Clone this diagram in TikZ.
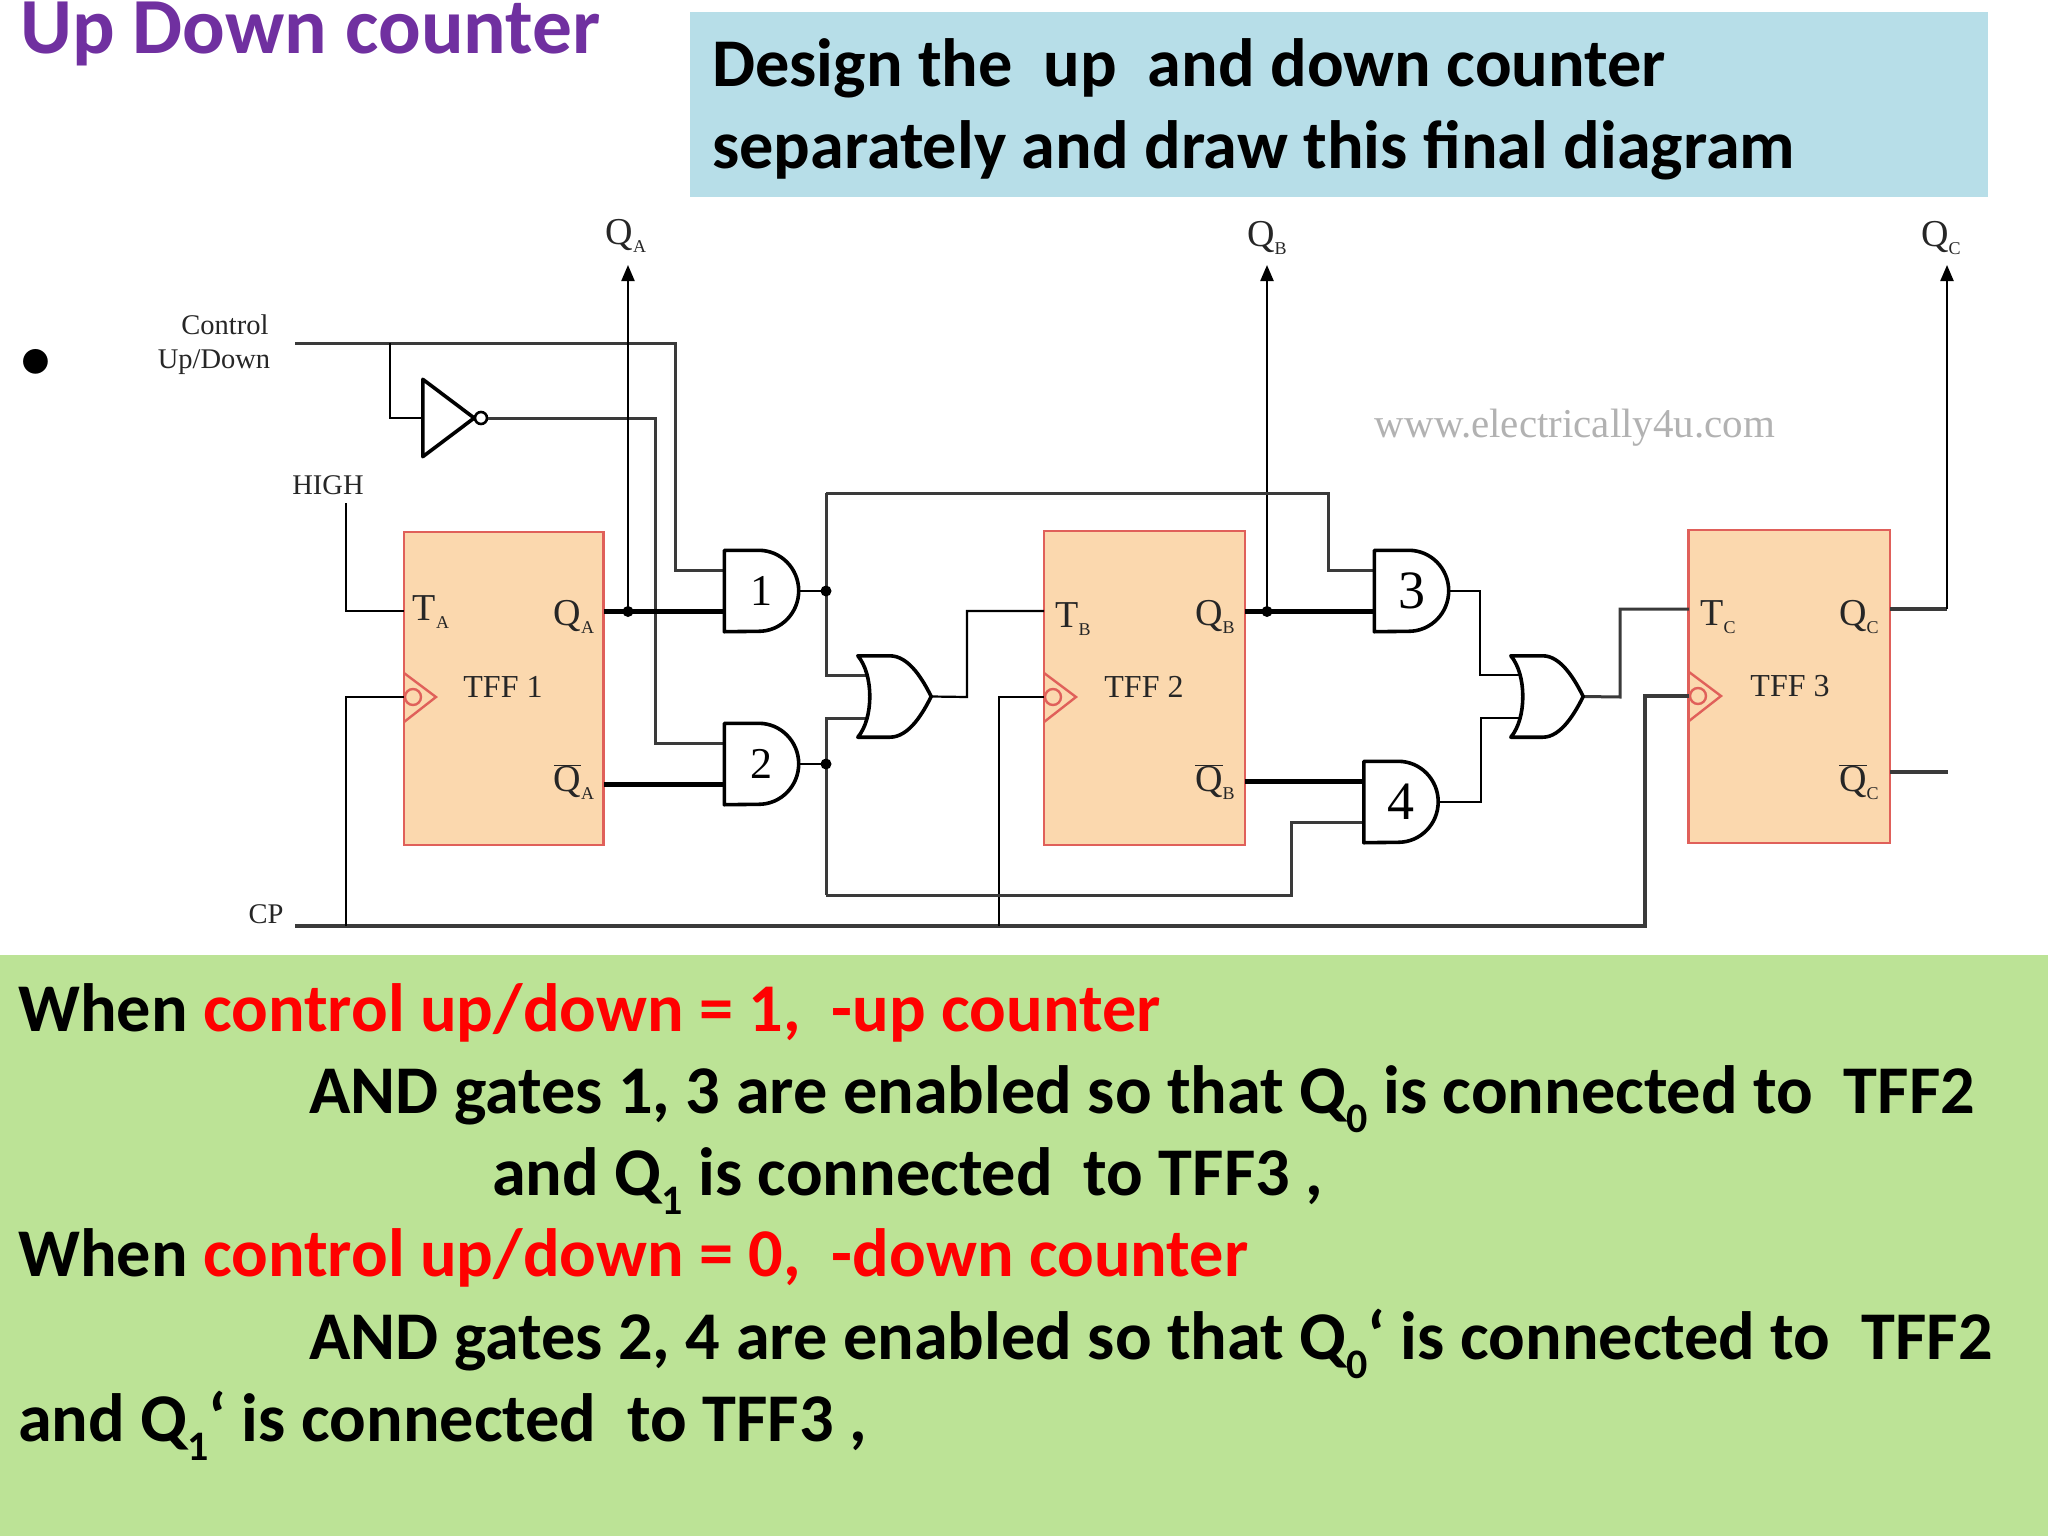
\documentclass[tikz,border=0pt]{standalone}
\usepackage{fontspec}
\setmainfont{Carlito}
\newfontfamily\circuitfont{Liberation Serif}
\usepackage{tikz}
\usetikzlibrary{ arrows.meta, % For the output arrows
               }
\definecolor{slidepurple}{HTML}{7030A0}
\definecolor{boxblue}{HTML}{B7DEE8}
\definecolor{boxgreen}{HTML}{BCE396}
\definecolor{ffpeach}{HTML}{FBD8AE}
\definecolor{ffred}{HTML}{E0605A}
\definecolor{wiregray}{HTML}{3A3A3A}
\tikzset{
  wire/.style={draw=wiregray, line width=3pt},
  thinwire/.style={draw=black, line width=2.2pt},
  buswire/.style={draw=black, line width=4.6pt},
  tff/.style={draw=ffred, fill=ffpeach, line width=2.4pt, inner sep=0pt},
  gatebox/.style={rectangle, inner sep=0pt, minimum width=74pt, minimum height=81pt,
    font=\circuitfont\fontsize{44}{44}\selectfont},
  gateline/.style={draw=black, line width=3.6pt, line join=round},
  clockline/.style={draw=ffred, line width=2.4pt},
  lbl/.style={font=\circuitfont\fontsize{28.5}{30}\selectfont, text=black!85, inner sep=0pt},
  pinlbl/.style={font=\circuitfont\fontsize{38}{38}\selectfont, text=black!85, inner sep=0pt},
  namelbl/.style={font=\circuitfont\fontsize{32}{32}\selectfont, text=black!85, inner sep=0pt},
  junction/.style={circle, fill=black, inner sep=0pt, minimum size=11pt},
  slidetext/.style={anchor=base west, inner sep=0pt, font=\bfseries\fontsize{68.3}{80}\selectfont},
}
\newcommand{\nsub}[1]{\raisebox{-0.28em}{\fontsize{42}{42}\selectfont #1}}
\newcommand{\psub}[1]{\raisebox{-0.22em}{\fontsize{18}{18}\selectfont #1}}
\newcommand{\qbar}{$\overline{\mbox{Q}}$}
% pins of a gate box, and its outline
\newcommand{\gatepins}[3]{
  \coordinate (#1_in1) at ([xshift=#2pt, yshift=#3pt]#1.west);
  \coordinate (#1_in2) at ([xshift=#2pt, yshift=-#3pt]#1.west);
}
\newcommand{\andbody}[1]{
  \draw[gateline] (#1.north west) -- ([xshift=-40pt]#1.north east)
    arc[start angle=90, end angle=-90, x radius=40pt, y radius=40.5pt] -- (#1.south west) -- cycle;
}
\newcommand{\orbody}[1]{
  \draw[gateline] (#1.north west) -- ([xshift=32pt]#1.north west)
    .. controls ([xshift=-22pt]#1.north east) and ([xshift=-8pt, yshift=16pt]#1.east) .. (#1.east)
    .. controls ([xshift=-8pt, yshift=-16pt]#1.east) and ([xshift=-22pt]#1.south east) .. ([xshift=32pt]#1.south west)
    -- (#1.south west)
    .. controls ([xshift=16pt, yshift=-22pt]#1.west) and ([xshift=16pt, yshift=22pt]#1.west) .. cycle;
}
\newcommand{\clockmark}[1]{
  \draw[clockline] ([yshift=24pt]#1) -- ([xshift=32pt]#1) -- ([yshift=-25pt]#1);
  \draw[clockline] ([xshift=9pt]#1) circle (8pt);
}
\begin{document}
\begin{tikzpicture}[x=1pt, y=-1pt]
  \useasboundingbox (0,0) rectangle (2048,1536);

  % slide boxes
  \fill[boxblue] (690,12) rectangle (1988,197);
  \fill[boxgreen] (0,955) rectangle (2048,1536);

  \node[slidetext, text=slidepurple, font=\bfseries\fontsize{79.5}{90}\selectfont] (title) at (20,54) {Up Down counter};
  \node[slidetext] (task_one) at (712,87) {Design the \ up \ and down counter};
  \node[slidetext] (task_two) at (712,168) {separately and draw this final diagram};
  \node[inner sep=0pt, font=\fontsize{70}{70}\selectfont] (bullet) at (36,365) {•};

  % flip flops
  \node[tff, minimum width=199.5pt, minimum height=313pt] (tff_one) at (503.75,688.5) {};
  \node[tff, minimum width=201pt, minimum height=314pt] (tff_two) at (1144.5,688) {};
  \node[tff, minimum width=201.5pt, minimum height=313pt] (tff_three) at (1789.25,686.5) {};

  % clock marks
  \coordinate (ca_pin) at (404,697);
  \coordinate (cb_pin) at (1044,697);
  \coordinate (cc_pin) at (1689,696);
  \clockmark{ca_pin}
  \clockmark{cb_pin}
  \clockmark{cc_pin}

  % gates
  \node[gatebox] (and_one) at (761.5,591) {1};
  \node[gatebox] (and_two) at (761.5,764) {2};
  \node[gatebox, font=\circuitfont\fontsize{54}{54}\selectfont] (and_three) at (1411.5,591) {3};
  \node[gatebox, font=\circuitfont\fontsize{54}{54}\selectfont] (and_four) at (1401,802) {4};
  \node[gatebox, minimum width=73pt] (or_one) at (894.5,696.5) {};
  \node[gatebox, minimum width=72pt] (or_two) at (1547,696.5) {};
  \node[gatebox, minimum width=51pt, minimum height=77pt] (inv) at (448.5,418) {};
  \node[circle, draw=black, line width=2.6pt, inner sep=0pt, minimum size=12pt] (inv_bubble) at (481,418) {};

  \gatepins{and_one}{0}{20.5}
  \gatepins{and_two}{0}{20.5}
  \gatepins{and_three}{0}{20.5}
  \gatepins{and_four}{0}{20.5}
  \gatepins{or_one}{8}{21.5}
  \gatepins{or_two}{8}{21.5}

  % labels
  \node[lbl] (control) at (225,325) {Control};
  \node[lbl] (updown) at (214,362) {Up/Down};
  \node[lbl] (high) at (328,485) {HIGH};
  \node[lbl] (cp) at (266,914) {CP};
  \node[pinlbl] (out_a) at (626,236) {Q\psub{A}};
  \node[pinlbl] (out_b) at (1267,238) {Q\psub{B}};
  \node[pinlbl] (out_c) at (1941,238) {Q\psub{C}};

  \node[pinlbl] (ta) at (431,612) {T\psub{A}};
  \node[namelbl] (name_one) at (503,687) {TFF 1};
  \node[pinlbl] (qa) at (574,617) {Q\psub{A}};
  \node[pinlbl] (qa_n) at (574,782) {\qbar\psub{A}};

  \node[pinlbl] (tb) at (1073,619) {T\psub{B}};
  \node[namelbl] (name_two) at (1144,687) {TFF 2};
  \node[pinlbl] (qb) at (1215,617) {Q\psub{B}};
  \node[pinlbl] (qb_n) at (1215,782) {\qbar\psub{B}};

  \node[pinlbl] (tc) at (1718,617) {T\psub{C}};
  \node[namelbl] (name_three) at (1790,686) {TFF 3};
  \node[pinlbl] (qc) at (1859,617) {Q\psub{C}};
  \node[pinlbl] (qc_n) at (1859,782) {\qbar\psub{C}};

  \node[inner sep=0pt, text=black!30, font=\circuitfont\fontsize{41}{41}\selectfont] (site) at (1575,428) {www.electrically4u.com};

  % free ends and corners
  \coordinate (ctrl_start) at (295,343);
  \coordinate (ctrl_turn) at (675,343);
  \coordinate (ctrl_tap) at (390,343);
  \coordinate (inv_turn) at (655,418);
  \coordinate (high_top) at (346,503);
  \coordinate (cp_start) at (295,926);
  \coordinate (cp_tap_a) at (346,926);
  \coordinate (cp_tap_b) at (999,926);
  \coordinate (cp_turn) at (1645,926);
  \coordinate (ta_pin) at (404,611);
  \coordinate (tb_pin) at (1044,611);
  \coordinate (tc_pin) at (1689,609);
  \coordinate (qa_pin) at (604,611.5);
  \coordinate (qa_n_pin) at (604,784.5);
  \coordinate (qb_pin) at (1245,611.5);
  \coordinate (qb_n_pin) at (1245,781.5);
  \coordinate (qc_pin) at (1890,609);
  \coordinate (qc_n_pin) at (1890,772);
  \coordinate (qc_n_end) at (1948,772);
  \coordinate (qa_tap) at (628,611.5);
  \coordinate (qb_tap) at (1267,611.5);
  \coordinate (qc_turn) at (1947,609);
  \coordinate (qa_top) at (628,265);
  \coordinate (qb_top) at (1267,265);
  \coordinate (qc_top) at (1947,265);
  \coordinate (rail_x) at (826,591);
  \coordinate (rail_top) at (826,493);
  \coordinate (rail_bot) at (826,895);
  \coordinate (top_turn) at (1328,493);
  \coordinate (bot_turn) at (1291,895);
  \coordinate (or_one_out) at (967,697);
  \coordinate (or_two_out) at (1620,697);
  \coordinate (up_bus) at (1480,591);
  \coordinate (down_bus) at (1481,802);

  % control and inverter
  \draw[wire] (ctrl_start) -- (ctrl_turn) |- (and_one_in1);
  \draw[thinwire] (ctrl_tap) |- (inv.west);
  \draw[wire] (inv_bubble) -- (inv_turn) |- (and_two_in1);

  % clock and high
  \draw[thinwire] (high_top) |- (ta_pin);
  \draw[wire, line width=3.8pt] (cp_start) -- (cp_turn) |- (cc_pin);
  \draw[thinwire] (cp_tap_a) |- (ca_pin);
  \draw[thinwire] (cp_tap_b) |- (cb_pin);

  % outputs of the flip flops
  \draw[buswire] (qa_pin) -- (and_one_in2);
  \draw[buswire] (qa_n_pin) -- (and_two_in2);
  \draw[buswire] (qb_pin) -- (and_three_in2);
  \draw[buswire] (qb_n_pin) -- (and_four_in1);
  \draw[wire, line width=3.8pt] (qc_pin) -- (qc_turn);
  \draw[wire, line width=3.8pt] (qc_n_pin) -- (qc_n_end);
  \draw[thinwire, -{Triangle[length=16pt, width=13pt]}] (qa_tap) -- (qa_top);
  \draw[thinwire, -{Triangle[length=16pt, width=13pt]}] (qb_tap) -- (qb_top);
  \draw[thinwire, -{Triangle[length=16pt, width=13pt]}] (qc_turn) -- (qc_top);
  \node[junction] (dot_qa) at (qa_tap) {};
  \node[junction] (dot_qb) at (qb_tap) {};

  % first or gate with its rail, which has a gap at the gate
  \draw[thinwire] (and_one.east) -- (rail_x);
  \draw[thinwire] (and_two.east) -- (rail_x |- and_two.east);
  \draw[wire] (rail_top) |- (or_one_in1);
  \draw[wire] (rail_bot) |- (or_one_in2);
  \node[junction] (dot_one) at (rail_x) {};
  \node[junction] (dot_two) at (rail_x |- and_two.east) {};
  \draw[wire] (rail_top) -- (top_turn) |- (and_three_in1);
  \draw[wire] (rail_bot) -- (bot_turn) |- (and_four_in2);
  \draw[thinwire] (or_one.east) -- (or_one_out) |- (tb_pin);

  % second or gate
  \draw[thinwire] (and_three.east) -- (up_bus) |- (or_two_in1);
  \draw[thinwire] (and_four.east) -- (down_bus) |- (or_two_in2);
  \draw[wire] (or_two.east) -- (or_two_out) |- (tc_pin);

  % gate outlines
  \andbody{and_one}
  \andbody{and_two}
  \andbody{and_three}
  \andbody{and_four}
  \orbody{or_one}
  \orbody{or_two}
  \draw[gateline] (inv.north west) -- (inv.east) -- (inv.south west) -- cycle;

  % explanation
  \node[slidetext] (when_up) at (18,1031) {When \textcolor{red}{control up/down = 1, \ -up counter}};
  \node[slidetext] (and_up) at (309,1113) {AND gates 1, 3 are enabled so that Q\nsub{0} is connected to \ TFF2};
  \node[slidetext] (and_up_two) at (492,1195) {and Q\nsub{1} is connected \ to TFF3 ,};
  \node[slidetext] (when_down) at (18,1276) {When \textcolor{red}{control up/down = 0, \ -down counter}};
  \node[slidetext] (and_down) at (309,1359) {AND gates 2, 4 are enabled so that Q\nsub{0}‘ is connected to \ TFF2};
  \node[slidetext] (and_down_two) at (18,1441) {and Q\nsub{1}‘ is connected \ to TFF3 ,};
\end{tikzpicture}
\end{document}
